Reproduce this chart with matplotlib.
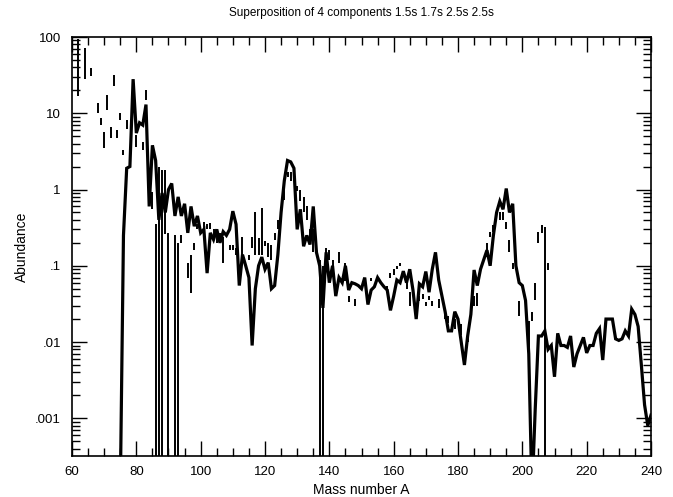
import numpy as np
import matplotlib
matplotlib.use("Agg")
import matplotlib.pyplot as plt
from matplotlib.ticker import MultipleLocator, LogLocator, NullFormatter

plt.rcParams['font.family'] = ['Liberation Sans', 'DejaVu Sans']

# calculated abundance curve, one value per mass number 75..240
mass = np.arange(75, 241)
abund = [
    1e-4, 0.25, 1.9, 2.0, 28, 5.5, 7.5, 7.0, 13, 0.6,          # 75-84
    3.8, 2.4, 0.4, 0.9, 0.5, 1.0, 1.2, 0.45, 0.8, 0.45,        # 85-94
    0.65, 0.27, 0.6, 0.33, 0.45, 0.27, 0.3, 0.08, 0.27, 0.22,  # 95-104
    0.3, 0.2, 0.28, 0.25, 0.3, 0.52, 0.35, 0.055, 0.14, 0.1,   # 105-114
    0.07, 0.009, 0.05, 0.1, 0.13, 0.09, 0.11, 0.05, 0.055, 0.14,  # 115-124
    0.5, 1.3, 2.4, 2.3, 1.9, 0.3, 0.55, 0.18, 0.25, 0.19,      # 125-134
    0.6, 0.15, 0.1, 0.028, 0.15, 0.06, 0.1, 0.04, 0.07, 0.06,  # 135-144
    0.1, 0.048, 0.06, 0.058, 0.055, 0.05, 0.07, 0.031, 0.048, 0.053,  # 145-154
    0.07, 0.06, 0.053, 0.048, 0.026, 0.04, 0.065, 0.06, 0.085, 0.06,  # 155-164
    0.09, 0.048, 0.02, 0.058, 0.053, 0.084, 0.045, 0.09, 0.15, 0.065,  # 165-174
    0.04, 0.025, 0.014, 0.014, 0.025, 0.02, 0.01, 0.005, 0.012, 0.023,  # 175-184
    0.088, 0.055, 0.09, 0.12, 0.16, 0.1, 0.25, 0.5, 0.7, 0.55,  # 185-194
    1.03, 0.5, 0.65, 0.1, 0.06, 0.055, 0.035, 0.007, 1e-4, 0.0013,  # 195-204
    0.012, 0.012, 0.014, 0.008, 0.009, 0.0035, 0.013, 0.009, 0.009, 0.0085,  # 205-214
    0.012, 0.0047, 0.007, 0.009, 0.0115, 0.0072, 0.009, 0.009, 0.013, 0.015,  # 215-224
    0.0058, 0.02, 0.02, 0.02, 0.011, 0.0105, 0.011, 0.014, 0.012, 0.027,  # 225-234
    0.023, 0.016, 0.005, 0.0015, 0.0008, 0.0011,               # 235-240
]

# observed abundances shown as error bars (mass, low, high); 1e-6 = down to zero
bar_mass = [62, 64, 66, 68, 69, 70, 71, 72, 73, 74, 75, 76, 77, 80, 82, 83,
            85, 86, 87, 88, 89, 90, 92, 93, 94, 96, 97, 98, 99, 101, 102, 103,
            104, 105, 106, 107, 109, 110, 111, 113, 115, 116, 117, 118, 119,
            120, 121, 122, 123, 124, 126, 127, 128, 130, 131, 132, 133, 134,
            135, 137, 138, 139, 140, 141, 143, 145, 146, 148, 153, 158, 159,
            160, 161, 162, 164, 165, 168, 169, 170, 171, 172, 174, 176, 177,
            179, 181, 183, 185, 186, 189, 190, 191, 193, 194, 195, 196, 197,
            199, 202, 203, 204, 205, 206, 207, 208]
bar_lo = [16.6, 28, 31, 10, 7.0, 3.5, 11, 4.7, 23, 4.7, 8.1, 2.8, 6.3, 3.6, 3.3, 15,
          0.56, 1e-6, 1e-6, 1e-6, 0.26, 1e-6, 1e-6, 1e-6, 0.2, 0.07, 0.044, 0.16, 0.3, 0.31, 0.30, 0.3,
          0.25, 0.2, 0.22, 0.11, 0.16, 0.16, 0.14, 0.11, 0.12, 0.17, 0.14, 0.14, 0.14,
          0.18, 0.13, 0.12, 0.22, 0.3, 0.73, 1.45, 1.3, 0.95, 0.7, 0.5, 0.4, 0.2,
          0.15, 1e-6, 1e-6, 0.1, 0.12, 0.1, 0.11, 0.063, 0.033, 0.03, 0.063, 0.045, 0.07,
          0.075, 0.09, 0.1, 0.05, 0.03, 0.034, 0.037, 0.03, 0.036, 0.03, 0.028, 0.02, 0.018,
          0.015, 0.0125, 0.01, 0.03, 0.03, 0.13, 0.24, 0.28, 0.4, 0.4, 0.3, 0.15, 0.09,
          0.022, 0.006, 0.019, 0.036, 0.2, 0.27, 1e-6, 0.087]
bar_hi = [95, 72, 39, 13.5, 8.7, 5.7, 17.5, 6.6, 32, 6.0, 10, 3.3, 8.1, 5.2, 4.2, 20,
          0.93, 0.35, 2.0, 1.8, 1.8, 0.27, 0.25, 0.2, 0.25, 0.11, 0.14, 0.2, 0.35, 0.37, 0.35, 0.36,
          0.3, 0.3, 0.27, 0.24, 0.19, 0.19, 0.17, 0.24, 0.14, 0.24, 0.5, 0.23, 0.57,
          0.21, 0.2, 0.19, 0.27, 0.4, 1.2, 1.7, 1.7, 1.1, 1.0, 0.8, 0.6, 0.3,
          0.3, 0.12, 0.1, 0.17, 0.16, 0.12, 0.15, 0.11, 0.04, 0.037, 0.07, 0.055, 0.08,
          0.09, 0.1, 0.11, 0.07, 0.045, 0.04, 0.043, 0.033, 0.04, 0.035, 0.037, 0.025, 0.022,
          0.02, 0.017, 0.014, 0.04, 0.044, 0.2, 0.28, 0.34, 0.5, 0.5, 0.38, 0.22, 0.11,
          0.034, 0.019, 0.025, 0.06, 0.28, 0.34, 0.32, 0.11]

fig = plt.figure(figsize=(6.73, 4.97), dpi=100)
ax = fig.add_axes([72/673, 1-456/497, 579/673, 419/497])

ax.plot(mass, abund, color='black', lw=2.3, solid_joinstyle='miter')
ax.vlines(bar_mass, bar_lo, bar_hi, colors='black', lw=1.4)

ax.set_yscale('log')
ax.set_xlim(60, 240)
ax.set_ylim(3.2e-4, 100)

ax.set_xticks(np.arange(60, 241, 20))
ax.xaxis.set_minor_locator(MultipleLocator(5))
ax.set_yticks([100, 10, 1, 0.1, 0.01, 0.001])
ax.set_yticklabels(['100', '10', '1', '.1', '.01', '.001'])
ax.yaxis.set_minor_locator(LogLocator(base=10, subs=np.arange(2, 10)))
ax.yaxis.set_minor_formatter(NullFormatter())

ax.tick_params(which='both', direction='in', top=True, right=True, labelsize=9.5, width=1.0)
ax.tick_params(which='major', length=11)
ax.tick_params(which='minor', length=5.5)
ax.tick_params(axis='x', which='major', pad=7)
ax.tick_params(axis='y', which='major', pad=8)
for s in ax.spines.values():
    s.set_linewidth(1.2)

ax.set_xlabel('Mass number A', fontsize=10, labelpad=4)
ax.set_ylabel('Abundance', fontsize=10, labelpad=4)
fig.text(361/673, 1-13/497, 'Superposition of 4 components 1.5s 1.7s 2.5s 2.5s',
         ha='center', va='center', fontsize=8.5)

fig.savefig('out.png', dpi=100)
